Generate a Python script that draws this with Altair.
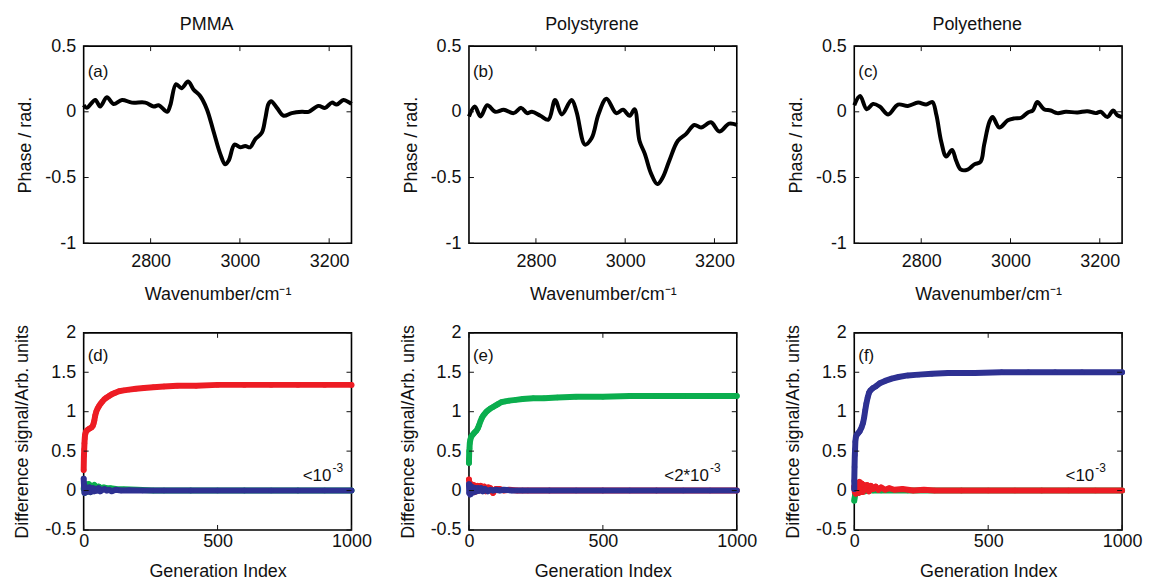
import altair as alt
import pandas as pd

# ---------------- top row: phase spectra ----------------
wn_pmma = [2650, 2657, 2676, 2687, 2702, 2717, 2736, 2758, 2788, 2807, 2818, 2837, 2844, 2857, 2869,
           2884, 2896, 2911, 2926, 2941, 2956, 2967, 2975, 2988, 3001, 3012, 3023, 3034, 3049, 3057,
           3064, 3070, 3083, 3098, 3116, 3139, 3154, 3176, 3191, 3206, 3217, 3232, 3243, 3250]
ph_pmma = [0.05, 0.03, 0.09, 0.04, 0.11, 0.06, 0.09, 0.07, 0.07, 0.04, 0.05, 0.0, 0.05, 0.21, 0.18,
           0.23, 0.17, 0.12, 0.02, -0.15, -0.32, -0.40, -0.37, -0.25, -0.27, -0.26, -0.27, -0.21, -0.16, -0.05,
           0.06, 0.08, 0.03, -0.03, -0.01, 0.0, 0.0, 0.045, 0.03, 0.07, 0.055, 0.09, 0.075, 0.06]

wn_ps = [2650, 2663, 2676, 2691, 2709, 2728, 2750, 2767, 2780, 2791, 2810, 2828, 2843, 2858, 2880,
         2891, 2910, 2925, 2940, 2958, 2980, 2995, 3010, 3021, 3032, 3044, 3058, 3072, 3084, 3099,
         3118, 3136, 3155, 3170, 3192, 3211, 3233, 3250]
ph_ps = [-0.035, 0.04, -0.035, 0.05, 0.0, 0.015, -0.01, 0.03, -0.01, 0.0, -0.03, -0.06, 0.09, -0.02, 0.09,
         0.0, -0.25, -0.2, -0.02, 0.1, -0.01, 0.015, -0.03, 0.02, -0.22, -0.32, -0.47, -0.55, -0.5, -0.37,
         -0.22, -0.17, -0.1, -0.12, -0.08, -0.15, -0.09, -0.1]

wn_pe = [2650, 2663, 2678, 2692, 2707, 2726, 2748, 2770, 2793, 2811, 2825, 2834, 2845, 2856, 2869,
         2878, 2889, 2904, 2919, 2933, 2941, 2953, 2960, 2975, 2994, 3009, 3024, 3039, 3050, 3060,
         3075, 3090, 3105, 3124, 3150, 3172, 3191, 3202, 3217, 3230, 3239, 3250]
ph_pe = [0.05, 0.12, 0.02, 0.06, 0.04, -0.02, 0.055, 0.045, 0.07, 0.055, 0.075, -0.025, -0.23, -0.34, -0.29,
         -0.37, -0.44, -0.44, -0.40, -0.38, -0.25, -0.075, -0.04, -0.12, -0.065, -0.05, -0.045, -0.005, 0.01, 0.075,
         0.02, 0.01, -0.01, 0.0, -0.005, 0.005, -0.01, 0.0, -0.04, 0.01, -0.025, -0.04]

# ---------------- bottom row: difference signal vs generation ----------------
d_red_gen = [0, 1, 2, 3, 4, 5, 7, 9, 12, 15, 19, 24, 29, 34, 37, 40, 43, 47, 52, 57, 63, 70, 78, 86, 95,
             105, 118, 132, 150, 170, 195, 225, 260, 300, 350, 420, 500, 600, 700, 800, 900, 1000]
d_red_val = [0.26, 0.44, 0.52, 0.6, 0.66, 0.7, 0.73, 0.75, 0.76, 0.77, 0.78, 0.79, 0.8, 0.82, 0.85, 0.89,
             0.95, 1.0, 1.04, 1.07, 1.1, 1.13, 1.16, 1.18, 1.2, 1.22, 1.24, 1.26, 1.27, 1.28, 1.29, 1.3,
             1.31, 1.32, 1.33, 1.33, 1.34, 1.34, 1.34, 1.34, 1.34, 1.34]
d_blue_gen = [0, 1, 2, 3, 5, 7, 9, 12, 15, 18, 22, 26, 30, 35, 40, 45, 50, 56, 62, 70, 78, 86, 95, 105,
              120, 140, 170, 220, 300, 400, 500, 600, 700, 800, 900, 1000]
d_blue_val = [0.15, 0.08, 0.02, -0.03, 0.05, -0.01, 0.04, -0.02, 0.03, 0.0, 0.04, -0.02, 0.02, 0.03, -0.01,
              0.02, 0.0, 0.03, -0.01, 0.01, 0.02, 0.0, 0.01, -0.01, 0.01, 0.0, 0.005, 0.0, 0.0, 0.0, 0.0,
              0.0, 0.0, 0.0, 0.0, 0.0]
d_green_gen = [0, 2, 4, 6, 9, 12, 16, 20, 25, 30, 35, 40, 48, 56, 65, 75, 85, 100, 120, 150, 200, 260,
               400, 600, 800, 1000]
d_green_val = [0.02, 0.08, -0.03, 0.07, 0.0, 0.08, 0.06, 0.08, -0.02, 0.06, 0.05, 0.07, 0.04, 0.05, 0.03,
               0.04, 0.03, 0.03, 0.02, 0.015, 0.01, 0.0, 0.0, 0.0, 0.0, 0.0]

e_green_gen = [0, 0, 1, 2, 3, 5, 8, 12, 17, 22, 28, 33, 38, 43, 48, 53, 58, 65, 72, 80, 90, 100, 110, 120,
               135, 150, 175, 200, 240, 280, 330, 400, 500, 600, 700, 800, 900, 1000]
e_green_val = [0.35, 0.38, 0.5, 0.53, 0.6, 0.64, 0.68, 0.7, 0.72, 0.74, 0.76, 0.79, 0.83, 0.88, 0.92, 0.95,
               0.97, 1.0, 1.02, 1.04, 1.06, 1.08, 1.1, 1.12, 1.13, 1.14, 1.15, 1.16, 1.17, 1.17, 1.18, 1.19,
               1.19, 1.2, 1.2, 1.2, 1.2, 1.2]
e_red_gen = [0, 2, 4, 7, 10, 14, 18, 22, 27, 32, 38, 44, 50, 57, 64, 72, 80, 90, 100, 115, 130, 150, 180,
             220, 300, 500, 700, 1000]
e_red_val = [0.14, 0.06, -0.02, 0.05, 0.08, 0.02, 0.07, -0.02, 0.05, 0.06, 0.0, 0.06, 0.03, 0.05, -0.01,
             0.04, 0.03, -0.03, 0.02, 0.02, 0.0, 0.01, 0.0, 0.0, 0.0, 0.0, 0.0, 0.0]
e_blue_gen = [0, 1, 3, 5, 8, 12, 16, 20, 25, 30, 35, 40, 46, 52, 60, 70, 80, 90, 100, 115, 130, 160, 200,
              300, 400, 500, 600, 700, 800, 900, 1000]
e_blue_val = [0.08, -0.03, 0.07, -0.05, 0.05, -0.03, 0.04, -0.02, 0.03, -0.01, 0.03, 0.0, 0.03, -0.01, 0.02,
              -0.01, 0.01, 0.0, 0.01, 0.0, 0.01, 0.0, 0.0, 0.0, 0.0, 0.0, 0.0, 0.0, 0.0, 0.0, 0.0]

f_blue_gen = [0, 0, 1, 2, 3, 4, 6, 10, 15, 20, 27, 33, 37, 41, 45, 50, 55, 60, 70, 80, 95, 115, 140, 165,
              200, 240, 290, 350, 450, 550, 650, 750, 850, 1000]
f_blue_val = [0.02, 0.12, 0.3, 0.45, 0.52, 0.62, 0.68, 0.71, 0.73, 0.75, 0.8, 0.86, 0.93, 1.02, 1.1, 1.18,
              1.24, 1.27, 1.3, 1.32, 1.36, 1.39, 1.42, 1.44, 1.46, 1.47, 1.48, 1.49, 1.49, 1.5, 1.5, 1.5,
              1.5, 1.5]
f_red_gen = [0, 2, 4, 6, 8, 11, 14, 17, 20, 24, 28, 32, 36, 42, 48, 55, 62, 70, 80, 90, 100, 115, 130, 150,
             180, 220, 260, 300, 400, 500, 600, 700, 800, 900, 1000]
f_red_val = [0.05, -0.02, 0.08, -0.04, 0.1, 0.02, 0.09, -0.03, 0.11, 0.04, 0.09, -0.02, 0.07, 0.02, 0.07,
             -0.01, 0.06, 0.02, 0.05, 0.01, 0.04, 0.01, 0.03, 0.01, 0.02, 0.0, 0.01, 0.0, 0.0, 0.0, 0.0,
             0.0, 0.0, 0.0, 0.0]
f_green_gen = [0, 1, 3, 6, 10, 15, 20, 30, 40, 50, 70, 100, 200, 400, 700, 1000]
f_green_val = [-0.13, -0.1, -0.06, 0.02, -0.03, 0.03, -0.02, 0.02, -0.01, 0.01, 0.0, 0.0, 0.0, 0.0, 0.0, 0.0]

top_titles = ["PMMA", "Polystyrene", "Polyethene"]
panel_labels = ["(a)", "(b)", "(c)", "(d)", "(e)", "(f)"]
top_xticks = [2800, 3000, 3200]
top_yticks = [-1, -0.5, 0, 0.5]
bot_xticks = [0, 500, 1000]
bot_yticks = [-0.5, 0, 0.5, 1, 1.5, 2]

RED, GREEN, BLUE = "#ED1C24", "#0BAE4E", "#2E3192"
FONT = "Liberation Sans"
INK = "#111111"
W, H = 269, 198
TICK = 5


def make_axis(values, title, label_pad, title_pad):
    return alt.Axis(values=values, title=title, domain=False, ticks=False, grid=False,
                    labelPadding=label_pad, titlePadding=title_pad, labelExpr="'' + datum.value",
                    labelFontSize=18, titleFontSize=18, labelFont=FONT, titleFont=FONT,
                    titleFontWeight="normal", labelColor=INK, titleColor=INK,
                    labelFlush=False, labelOverlap=False, labelBound=False)


def tick_layers(xticks, yticks, xscale, yscale, xaxis, yaxis):
    dx = alt.Chart(pd.DataFrame({"tx": xticks}))
    dy = alt.Chart(pd.DataFrame({"ty": yticks}))
    rule = dict(color=INK, strokeWidth=1)
    X = alt.X("tx:Q", scale=xscale, axis=xaxis)
    Y = alt.Y("ty:Q", scale=yscale, axis=yaxis)
    return [
        dx.mark_rule(**rule).encode(x=X, y=alt.value(0), y2=alt.value(TICK)),
        dx.mark_rule(**rule).encode(x=X, y=alt.value(H), y2=alt.value(H - TICK)),
        dy.mark_rule(**rule).encode(y=Y, x=alt.value(0), x2=alt.value(TICK)),
        dy.mark_rule(**rule).encode(y=Y, x=alt.value(W), x2=alt.value(W - TICK)),
    ]


def text_at(text, xpix, ypix, size=17, align="left", baseline="middle"):
    return alt.Chart(pd.DataFrame({"t": [text]})).mark_text(
        align=align, baseline=baseline, fontSize=size, font=FONT, color=INK
    ).encode(text="t:N", x=alt.value(xpix), y=alt.value(ypix))


def top_panel(wn, ph, title, label):
    df = pd.DataFrame({"wn": wn, "ph": ph})
    xs = alt.Scale(domain=[2650, 3250], nice=False, zero=False)
    ys = alt.Scale(domain=[-1, 0.5], nice=False, zero=False)
    xa = make_axis(top_xticks, "Wavenumber/cm\u207b\u00b9", 9, 16)
    ya = make_axis(top_yticks, "Phase / rad.", 8, 10)
    line = alt.Chart(df).mark_line(color="black", strokeWidth=4, interpolate="catmull-rom").encode(
        x=alt.X("wn:Q", scale=xs, axis=xa), y=alt.Y("ph:Q", scale=ys, axis=ya))
    return alt.layer(line, *tick_layers(top_xticks, top_yticks, xs, ys, xa, ya),
                     text_at(label, 4, 26),
                     text_at(title, W / 2 - 11, -16, size=18, align="center", baseline="alphabetic")
                     ).properties(width=W, height=H)


def bottom_panel(series, label, ann_main, ann_x_main, ann_x_sup):
    xs = alt.Scale(domain=[0, 1000], nice=False, zero=False)
    ys = alt.Scale(domain=[-0.5, 2], nice=False, zero=False)
    xa = make_axis(bot_xticks, "Generation Index", 3, 12)
    ya = make_axis(bot_yticks, "Difference signal/Arb. units", 8, 13)
    x = alt.X("g:Q", scale=xs, axis=xa)
    y = alt.Y("v:Q", scale=ys, axis=ya)
    layers = []
    for gens, vals, color in series:
        base = alt.Chart(pd.DataFrame({"g": gens, "v": vals}))
        layers.append(base.mark_line(color=color, strokeWidth=6, strokeCap="round",
                                     strokeJoin="round").encode(x=x, y=y))
        layers.append(base.mark_circle(color=color, size=30, opacity=1).encode(x=x, y=y))
    ann_df = pd.DataFrame({"t": [ann_main], "gx": [ann_x_main], "vy": [0.12]})
    main = alt.Chart(ann_df).mark_text(align="right", baseline="alphabetic", fontSize=17,
                                       font=FONT, color=INK).encode(
        text="t:N", x=alt.X("gx:Q", scale=xs, axis=xa), y=alt.Y("vy:Q", scale=ys, axis=ya))
    sup_df = pd.DataFrame({"t": ["-3"], "gx": [ann_x_sup], "vy": [0.23]})
    sup = alt.Chart(sup_df).mark_text(align="left", baseline="alphabetic",
                                      fontSize=12, font=FONT, color=INK).encode(
        text="t:N", x=alt.X("gx:Q", scale=xs, axis=xa), y=alt.Y("vy:Q", scale=ys, axis=ya))
    return alt.layer(*layers, *tick_layers(bot_xticks, bot_yticks, xs, ys, xa, ya),
                     text_at(label, 4, 23), main, sup).properties(width=W, height=H)


a = top_panel(wn_pmma, ph_pmma, top_titles[0], panel_labels[0])
b = top_panel(wn_ps, ph_ps, top_titles[1], panel_labels[1])
c = top_panel(wn_pe, ph_pe, top_titles[2], panel_labels[2])

d = bottom_panel([(d_green_gen, d_green_val, GREEN), (d_blue_gen, d_blue_val, BLUE),
                  (d_red_gen, d_red_val, RED)], panel_labels[3], "<10", 925, 929)
e = bottom_panel([(e_red_gen, e_red_val, RED), (e_blue_gen, e_blue_val, BLUE),
                  (e_green_gen, e_green_val, GREEN)], panel_labels[4], "<2*10", 896, 900)
f = bottom_panel([(f_green_gen, f_green_val, GREEN), (f_red_gen, f_red_val, RED),
                  (f_blue_gen, f_blue_val, BLUE)], panel_labels[5], "<10", 896, 900)

chart = alt.concat(a, b, c, d, e, f, columns=3, spacing={"row": 90, "column": 118},
                   bounds="flush").properties(
    padding={"left": 5, "top": 6, "right": 0, "bottom": 0}, background="white"
).configure_view(stroke="black", strokeWidth=1.6).configure_axis(labelOverlap=False)

chart.save("out.html", embed_options={"renderer": "svg", "actions": False})
